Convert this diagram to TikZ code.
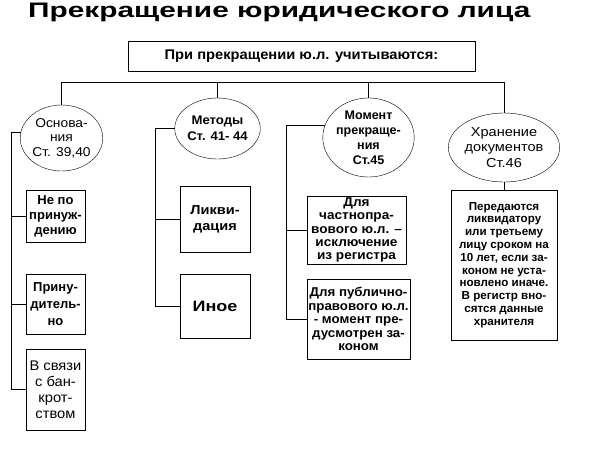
\documentclass[tikz,border=0pt]{standalone}
\usepackage{fontspec}
\setmainfont{Liberation Sans}
\usepackage{tikz}
\usetikzlibrary{arrows.meta, positioning, shapes.geometric, shadows, calc}

\begin{document}
\begin{tikzpicture}[x=1pt, y=-1pt]

        % --- Styles ---
        \tikzset{
            ovalNode/.style={ellipse, draw=black, thin, fill=white, inner sep=0pt, align=center},
            leafBox/.style={rectangle, draw=black, line width=0.8pt, fill=white, inner sep=0pt, align=center,
                drop shadow={shadow xshift=1pt, shadow yshift=-1pt, fill=black!45, opacity=1}},
            linkLine/.style={draw=black, line width=0.9pt},
            regText/.style n args={3}{font=\fontsize{#1}{#2}\selectfont\addfontfeatures{FakeStretch=#3}},
            boldText/.style n args={3}{font=\fontsize{#1}{#2}\selectfont\bfseries\addfontfeatures{FakeStretch=#3}}
        }

        \useasboundingbox (0,0) rectangle (596,448);

        % --- Title ---
        \node[anchor=base west, inner sep=0pt, font=\fontsize{21}{21}\selectfont\bfseries] (title) at (28,17)
            {\scalebox{1.42}[1]{Прекращение юридического лица}};

        % --- Head box and bus ---
        \node[leafBox, boldText={14}{16}{1.05}, minimum width=347, minimum height=30] (head) at (301.5,56)
            {При прекращении ю.л. учитываются:};
        \coordinate (busL) at (62,82);
        \coordinate (busR) at (504,82);

        % --- Ovals ---
        \node[ovalNode, regText={12.8}{14.5}{1.08}, minimum width=69, minimum height=66] (osn) at (61.5,138)
            {Основа-\\ния\\Ст. 39,40};
        \node[ovalNode, boldText={12.5}{16}{1.05}, minimum width=76, minimum height=61] (met) at (217.5,128.5)
            {Методы\\Ст. 41- 44};
        \node[ovalNode, boldText={12.5}{15}{1.0}, minimum width=88, minimum height=79] (mom) at (368.5,137.5)
            {Момент\\прекраще-\\ния\\Ст.45};
        \node[ovalNode, regText={13}{15.5}{1.12}, minimum width=89, minimum height=69] (hran) at (504,147.5)
            {Хранение\\документов\\Ст.46};

        % --- Boxes (Основания) ---
        \node[leafBox, boldText={13}{15}{1.0}, minimum width=59, minimum height=52] (nepr) at (55.5,216)
            {Не по\\принуж-\\дению};
        \node[leafBox, boldText={13}{17}{1.0}, minimum width=59, minimum height=60] (prin) at (55.5,304)
            {Прину-\\дитель-\\но};
        \node[leafBox, regText={14}{16}{1.05}, minimum width=59, minimum height=81] (bank) at (55.5,389.5)
            {В связи\\с бан-\\крот-\\ством};

        % --- Boxes (Методы) ---
        \node[leafBox, boldText={13}{16}{1.12}, minimum width=70, minimum height=66] (likv) at (215,219)
            {Ликви-\\дация};
        \node[leafBox, boldText={15}{16}{1.2}, minimum width=70, minimum height=64] (inoe) at (215,306)
            {Иное};

        % --- Boxes (Момент) ---
        \node[leafBox, boldText={12.8}{13.2}{1.06}, minimum width=99, minimum height=68] (chast) at (356.5,230)
            {Для\\частнопра-\\вового ю.л. –\\исключение\\из регистра};
        \node[leafBox, boldText={12.8}{13.5}{1.04}, minimum width=103, minimum height=80] (publ) at (358.5,319)
            {Для публично-\\правового ю.л.\\- момент пре-\\дусмотрен за-\\коном};

        % --- Box (Хранение) ---
        \node[leafBox, boldText={11.6}{12.8}{1.0}, minimum width=106, minimum height=150] (store) at (504,265)
            {Передаются\\ликвидатору\\или третьему\\лицу сроком на\\10 лет, если за-\\коном не уста-\\новлено иначе.\\В регистр вно-\\сятся данные\\хранителя};

        % 1. Bus and drops
        \draw[linkLine] (busL) -- (busR);
        \draw[linkLine] (osn.north) -- (osn.north |- busL);
        \draw[linkLine] (met.north) -- (met.north |- busL);
        \draw[linkLine] (mom.north) -- (mom.north |- busL);
        \draw[linkLine] (hran.north) -- (hran.north |- busL);

        % 2. Branches
        \draw[linkLine] (osn.172) -| ([xshift=-14pt]bank.west) -- (bank.west);
        \draw[linkLine] ([xshift=-14pt]nepr.west) -- (nepr.west);
        \draw[linkLine] ([xshift=-14pt]prin.west) -- (prin.west);

        \draw[linkLine] (met.west) -| ([xshift=-24pt]inoe.west) -- (inoe.west);
        \draw[linkLine] ([xshift=-24pt]likv.west) -- (likv.west);

        \draw[linkLine] (mom.165) -| ([xshift=-20pt]publ.west) -- (publ.west);
        \draw[linkLine] ([xshift=-20pt]chast.west) -- (chast.west);

        \draw[linkLine] (hran.south) -- (store.north);

\end{tikzpicture}
\end{document}
